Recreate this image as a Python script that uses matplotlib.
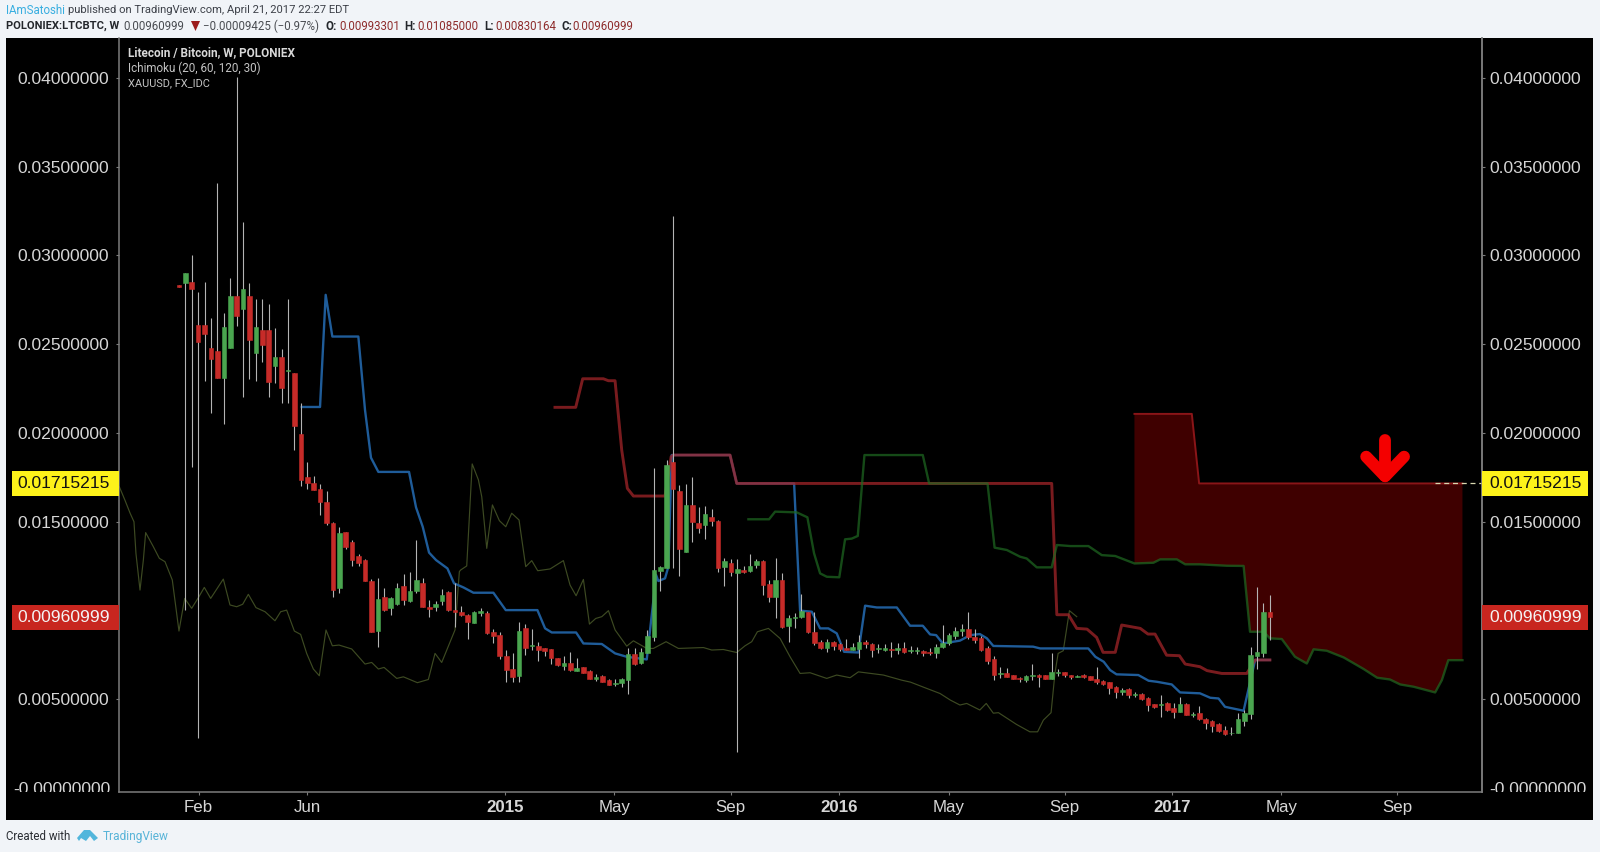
import numpy as np
import matplotlib
matplotlib.use('Agg')
import matplotlib.pyplot as plt
from matplotlib.patches import Rectangle, Polygon
from matplotlib.transforms import Bbox

# weekly candles, in thousandths of BTC (divided by 1000 below)
opens = [28.35,
    28.47, 28.53, 26.1, 26.1, 24.8, 24.62, 23.08, 24.77, 27.72,
    26.99, 27.72, 24.49, 25.8, 25.8, 23.79, 24.3, 23.47, 23.4, 19.92,
    17.53, 17.19, 16.86, 16.12, 14.9, 11.24, 14.43, 13.87, 13.06, 12.83,
    11.65, 8.85, 10.73, 10.11, 10.33, 11.37, 10.52, 11.09, 11.52, 10.16,
    10.18, 10.54, 11.05, 10.0, 9.9, 9.73, 9.3, 9.86, 9.83, 8.79,
    8.6, 7.42, 6.67, 6.31, 9.02, 7.98, 8.0, 7.85, 7.8, 7.33,
    6.88, 7.01, 6.6, 6.78, 6.6, 6.12, 6.3, 6.07, 5.84, 5.92,
    6.07, 7.53, 7.01, 7.61, 8.47, 12.21, 12.4, 18.34, 16.74, 13.3,
    15.92, 14.92, 14.8, 15.28, 15.05, 12.46, 12.68, 12.08, 12.25, 12.2,
    12.55, 12.78, 11.48, 10.76, 11.7, 9.11, 9.58, 9.6, 9.92, 8.79,
    8.19, 7.85, 8.23, 8.08, 7.85, 7.79, 7.81, 8.19, 8.08, 7.81,
    7.75, 7.81, 7.75, 7.9, 7.72, 7.7, 7.7, 7.66, 7.57, 7.91,
    8.13, 8.55, 8.85, 8.92, 8.47, 8.42, 7.87, 7.25, 6.41, 6.44,
    6.35, 6.2, 6.07, 6.31, 6.37, 6.37, 6.13, 6.44, 6.54, 6.37,
    6.24, 6.35, 6.27, 6.14, 6.03, 5.94, 5.69, 5.37, 5.54, 5.24,
    5.28, 5.07, 4.71, 4.64, 4.75, 4.47, 4.28, 4.71, 4.11, 4.19,
    3.89, 3.76, 3.57, 3.25, 3.06, 3.1, 3.78, 4.15, 7.44, 7.61, 9.93]
closes = [28.25,
    29.0, 28.1, 25.15, 25.58, 24.17, 23.08, 25.99, 27.72, 26.6,
    28.11, 25.24, 25.99, 24.96, 22.89, 24.3, 22.55, 23.55, 20.39, 17.34,
    17.16, 16.78, 16.12, 14.9, 11.14, 14.34, 13.58, 12.83, 12.68, 11.67,
    8.79, 10.63, 10.0, 10.67, 11.24, 10.58, 11.1, 11.71, 10.2, 10.09,
    10.33, 10.86, 10.02, 9.9, 9.73, 9.32, 9.9, 9.98, 8.7, 8.57,
    7.44, 6.63, 6.22, 8.83, 7.85, 8.04, 7.76, 7.72, 7.29, 6.91,
    7.01, 6.63, 6.76, 6.48, 6.12, 6.26, 5.97, 5.8, 5.92, 6.12,
    7.53, 6.97, 7.67, 8.55, 12.27, 12.46, 18.19, 16.84, 13.45, 15.92,
    15.0, 14.64, 15.41, 15.01, 12.4, 12.76, 12.17, 12.3, 12.17, 12.5,
    12.78, 11.42, 10.76, 11.7, 9.07, 9.54, 9.64, 9.94, 8.75, 8.13,
    7.85, 8.23, 7.98, 7.81, 7.79, 7.94, 8.19, 8.08, 7.75, 7.85,
    7.9, 7.77, 7.9, 7.63, 7.75, 7.77, 7.57, 7.57, 7.94, 8.13,
    8.59, 8.85, 8.92, 8.47, 8.32, 7.76, 7.16, 6.35, 6.44, 6.26,
    6.13, 6.11, 6.31, 6.35, 6.26, 6.13, 6.5, 6.5, 6.35, 6.22,
    6.31, 6.22, 6.07, 5.94, 5.82, 5.63, 5.37, 5.52, 5.24, 5.28,
    4.98, 4.66, 4.53, 4.71, 4.38, 4.28, 4.71, 4.1, 4.17, 3.85,
    3.63, 3.47, 3.19, 3.02, 3.1, 3.85, 4.19, 7.48, 7.63, 9.92, 9.61]
highs = [28.35,
    29.0, 30.0, 27.93, 28.53, 26.5, 34.1, 26.74, 28.72, 40.08,
    31.9, 28.43, 27.53, 27.53, 27.25, 25.9, 24.71, 27.53, 23.4, 21.67,
    18.38, 17.57, 17.12, 16.74, 14.95, 14.68, 14.43, 13.96, 13.17, 12.87,
    11.74, 11.84, 11.27, 10.75, 11.52, 12.03, 12.14, 13.96, 11.84, 10.58,
    10.54, 11.18, 11.09, 11.52, 10.24, 9.77, 9.98, 10.13, 9.98, 8.92,
    8.75, 7.76, 7.57, 9.32, 9.21, 8.94, 8.19, 7.85, 7.8, 7.33,
    7.44, 7.63, 7.33, 6.82, 6.63, 6.39, 6.33, 6.1, 6.1, 6.17,
    7.89, 7.85, 7.85, 8.89, 18.0, 12.5, 18.47, 32.24, 17.06, 17.12,
    17.5, 15.8, 15.9, 15.69, 15.09, 12.93, 12.87, 12.87, 12.5, 13.2,
    12.87, 12.83, 11.7, 12.93, 12.08, 9.73, 9.82, 10.91, 9.92, 9.92,
    8.32, 8.4, 8.29, 8.13, 8.4, 8.13, 8.6, 8.32, 8.13, 8.08,
    8.1, 8.19, 8.13, 8.19, 7.98, 7.94, 7.75, 7.85, 8.08, 9.17,
    8.7, 9.07, 9.2, 9.92, 8.92, 8.55, 7.99, 7.42, 6.78, 6.76,
    6.35, 6.26, 6.35, 6.97, 6.41, 6.37, 7.61, 6.67, 6.54, 6.37,
    6.35, 6.39, 6.27, 6.78, 6.07, 5.98, 5.73, 5.6, 5.6, 5.39,
    5.32, 5.13, 4.71, 5.22, 4.81, 4.75, 5.13, 4.75, 4.26, 4.62,
    3.93, 3.82, 3.62, 3.49, 3.44, 4.23, 4.38, 7.91, 11.29, 10.39, 10.85]
lows = [28.25,
    10.0, 18.1, 2.8, 22.95, 21.1, 23.08, 20.5, 24.77, 26.0,
    22.0, 23.04, 22.95, 24.02, 22.0, 22.83, 21.67, 21.7, 19.04, 17.0,
    16.86, 16.78, 15.37, 14.8, 10.77, 10.96, 13.44, 12.51, 12.51, 11.67,
    8.79, 7.95, 9.98, 9.73, 10.3, 10.3, 10.48, 10.95, 10.2, 9.6,
    9.98, 10.3, 9.98, 9.07, 9.68, 8.36, 9.27, 9.68, 8.66, 8.17,
    7.25, 5.97, 5.97, 5.97, 7.48, 7.76, 7.14, 7.44, 6.95, 6.86,
    6.63, 6.6, 6.58, 6.44, 6.1, 6.0, 5.95, 5.78, 5.73, 5.65,
    5.28, 6.91, 6.97, 7.57, 8.29, 11.1, 12.36, 12.36, 11.95, 13.3,
    13.83, 14.34, 14.0, 14.77, 12.17, 11.37, 11.95, 2.0, 12.08, 12.14,
    12.4, 10.86, 10.48, 9.58, 9.03, 8.23, 9.03, 9.56, 8.73, 8.07,
    7.81, 7.66, 7.75, 7.72, 7.75, 7.75, 7.29, 7.9, 7.38, 7.57,
    7.72, 7.34, 7.53, 7.57, 7.57, 7.53, 7.44, 7.5, 7.32, 7.89,
    8.07, 8.36, 8.57, 8.36, 8.17, 7.72, 6.97, 6.07, 6.16, 6.22,
    6.11, 5.94, 5.94, 6.07, 5.69, 6.11, 6.11, 6.31, 6.26, 6.14,
    6.22, 6.2, 6.05, 5.84, 5.78, 5.28, 5.07, 5.22, 5.07, 5.13,
    4.94, 4.32, 4.51, 3.97, 4.34, 3.91, 4.26, 4.08, 3.96, 3.81,
    3.3, 3.15, 3.13, 2.98, 2.98, 3.08, 3.47, 3.85, 6.67, 7.38, 8.3]

# Ichimoku lines and gold overlay: (week, value)
tenkan_w = [19.13, 21.99, 22.87, 23.91, 27.96, 29.0, 29.93, 31.08, 35.86, 36.95, 37.99, 38.98, 40.07, 41.84, 42.87,
    44.33, 45.89, 49.0, 50.93, 55.86, 57.06, 58.1, 61.89, 63.03, 65.89, 67.97, 69.78, 72.9, 73.94, 74.35, 74.71,
    75.75, 76.27, 76.79, 85.88, 86.92, 95.86, 96.79, 98.61, 99.91, 101.2, 102.5, 103.65, 105.88, 106.92, 108.74,
    111.86, 113.93, 115.91, 117.05, 117.99, 119.03, 121.7, 123.3, 124.8, 125.9, 126.9, 133.1, 134.2, 141.7, 142.8,
    144.1, 145.1, 146.1, 149.5, 151.1, 152.4, 154.7, 156.0, 159.1, 160.7, 162.0, 163.0, 165.9, 167.7, 170.0]
tenkan_v = [21.46, 21.46, 27.78, 25.43, 25.43, 21.29, 18.6, 17.8, 17.8, 15.8, 14.71, 13.25, 12.83, 12.36, 11.52,
    11.29, 10.99, 10.99, 10.01, 10.01, 8.98, 8.75, 8.75, 8.13, 8.1, 7.57, 7.38, 7.23, 10.58, 11.99, 11.65,
    11.8, 12.46, 18.75, 18.75, 17.15, 17.15, 9.98, 9.92, 8.98, 8.98, 8.7, 7.66, 7.62, 10.26, 10.16,
    10.16, 9.13, 9.13, 8.64, 8.6, 8.13, 8.29, 8.6, 8.66, 8.42, 7.99, 7.95, 7.85, 7.85, 7.38,
    7.1, 6.63, 6.39, 6.35, 6.03, 5.97, 5.82, 5.37, 5.32, 5.07, 5.03, 4.56, 4.34, 7.2, 7.2]
kijun_w = [58.6, 61.83, 62.92, 66.14, 66.92, 67.96, 69.0, 69.88, 70.82, 75.75, 76.7, 77.05, 85.88, 86.92, 136.0,
    136.8, 138.6, 139.9, 141.5, 143.0, 144.0, 145.9, 146.9, 149.8, 151.0, 152.1, 153.9, 155.9, 156.8, 159.1,
    160.2, 162.5, 166.4, 167.7, 170.0]
kijun_v = [21.44, 21.44, 23.05, 23.05, 22.94, 22.94, 19.03, 16.87, 16.44, 16.44, 18.66, 18.75, 18.75, 17.15, 17.15,
    9.75, 9.75, 8.98, 8.94, 8.47, 7.63, 7.63, 9.17, 8.98, 8.66, 8.66, 7.47, 7.44, 6.97, 6.82,
    6.6, 6.44, 6.44, 7.2, 7.2]
span_a_w = [88.74, 91.96, 92.9, 96.27, 97.93, 98.97, 99.91, 100.95, 102.9, 103.8, 104.84, 105.78, 106.82, 115.91,
    116.9, 126.0, 127.1, 129.0, 131.07, 132.1, 133.67, 136.0, 136.8, 138.9, 141.72, 143.8, 145.9, 148.9, 151.85,
    152.9, 155.5, 156.8, 159.1, 163.3, 165.9, 166.9, 169.0, 170.0, 171.85, 173.9, 175.75, 176.8, 178.86, 181.5,
    184.6, 186.7, 188.7, 190.3, 192.4, 195.75, 196.8, 197.8, 200.0]
span_a_v = [15.13, 15.13, 15.56, 15.52, 15.24, 13.21, 12.08, 11.89, 11.86, 14.0, 14.04, 14.19, 18.75, 18.75,
    17.15, 17.15, 13.53, 13.4, 13.02, 12.92, 12.42, 12.42, 13.68, 13.62, 13.62, 13.11, 13.06, 12.64, 12.68,
    12.87, 12.87, 12.59, 12.59, 12.51, 12.5, 8.79, 8.79, 8.42, 8.38, 7.38, 7.0, 7.8, 7.72, 7.34,
    6.69, 6.2, 6.1, 5.82, 5.69, 5.37, 6.07, 7.19, 7.19]
span_b_w = [148.89, 157.83, 158.97, 200.0]
span_b_v = [21.07, 21.07, 17.15, 17.15]
gold_w = [-9.29, -8.4, -7.6, -7.0, -6.69, -6.06, -5.54, -5.18, -3.99, -3.05, -2.17, -1.03, 0.01, 0.9, 1.99, 3.03, 3.96,
    4.95, 6.92, 7.96, 9.0, 9.94, 10.82, 12.01, 13.42, 14.97, 15.86, 16.79, 17.99, 18.97, 19.91, 20.95, 21.88, 22.92,
    23.91, 24.95, 26.93, 29.0, 30.04, 31.08, 31.97, 33.94, 34.98, 37.16, 38.87, 39.91, 40.95, 43.03, 43.7, 43.9,
    44.85, 45.7, 46.67, 47.19, 47.97, 48.85, 49.94, 50.93, 51.86, 53.0, 54.04, 54.98, 55.91, 57.84, 59.91, 60.95,
    61.89, 63.03, 63.97, 64.95, 65.89, 66.93, 67.97, 69.78, 70.82, 72.9, 73.94, 75.91, 77.83, 81.73, 83.03, 84.84,
    86.92, 88.22, 89.26, 90.14, 91.86, 93.68, 95.23, 96.79, 98.35, 100.95, 102.5, 104.58, 105.88, 109.78, 112.64,
    114.0, 116.5, 118.6, 120.2, 121.7, 122.76, 124.8, 125.8, 126.9, 127.7, 130.5, 132.6, 133.8, 134.7, 135.9, 136.5,
    137.0, 137.8, 138.76, 139.9]
gold_v = [16.97, 16.2, 15.47, 14.99, 13.2, 11.14, 12.83, 14.38, 13.59, 12.93, 12.74, 11.71, 8.83, 10.67, 10.11, 10.71, 11.29,
    10.67, 11.76, 10.3, 10.2, 10.34, 10.9, 10.15, 9.92, 9.41, 9.92, 10.01, 8.83, 8.64, 7.57, 6.69, 6.31, 8.89,
    8.0, 8.04, 7.82, 6.97, 7.06, 6.69, 6.78, 6.16, 6.25, 5.92, 6.1, 7.57, 7.06, 8.9, 12.18, 12.27,
    12.5, 18.25, 17.35, 16.4, 13.49, 15.94, 15.05, 14.71, 15.47, 15.09, 12.46, 12.8, 12.23, 12.33, 12.8, 11.42,
    10.82, 11.74, 9.22, 9.54, 9.64, 9.98, 8.89, 7.98, 8.28, 7.85, 7.85, 8.23, 7.85, 7.9, 7.76, 7.79,
    7.62, 8.0, 8.23, 8.79, 8.98, 8.41, 7.38, 6.44, 6.48, 6.16, 6.35, 6.2, 6.53, 6.35, 6.06,
    5.95, 5.6, 5.31, 4.94, 4.66, 4.75, 4.38, 4.75, 4.2, 4.23, 3.57, 3.15, 3.15, 3.81, 4.23, 6.44,
    7.57, 7.72, 9.98, 9.64]

y_ticks = [0.005, 0.015, 0.02, 0.025, 0.03, 0.035, 0.04]
x_tick_weeks = [3.08, 20.0, 50.8, 67.85, 86.0, 102.8, 120.0, 138.0, 154.8, 171.8, 189.8]
x_tick_labels = ['Feb', 'Jun', '2015', 'May', 'Sep', '2016', 'May', 'Sep', '2017', 'May', 'Sep']
bold_labels = ('2015', '2016', '2017')
last_price = 0.00960999
span_b_last = 0.01715215
arrow_w = [187.95, 185.0, 190.9]
arrow_v = [19.6, 18.66, 17.55]

LABEL = '#d6d6d6'
AXIS = '#7c7c7c'
FONT = 'Liberation Sans'
UI = 'Roboto'

opens, highs, lows, closes = [np.array(a) / 1000 for a in (opens, highs, lows, closes)]
week = np.arange(len(opens))
up = closes >= opens


def fx(px):
    return px / 1600


def fy(py):
    return 1 - py / 852


fig = plt.figure(figsize=(16, 8.52), dpi=100, facecolor='#f1f4f8')
fig.patches.append(Rectangle((fx(6), fy(820)), fx(1587), 782 / 852, transform=fig.transFigure, facecolor='black', edgecolor='none', zorder=-5))

ax = fig.add_axes([fx(118.7), fy(791.7), fx(1363), (791.7 - 38.3) / 852], facecolor='black')
ax.patch.set_alpha(0)
ax.set_xlim(-9.38, 203.0)
ax.set_ylim(-0.000225, 0.04224)

# cloud, only the part ahead of the last candles is shaded
cloud_a = [(w, v / 1000) for w, v in zip(span_a_w, span_a_v) if w >= 148.89]
cloud_b = [(w, v / 1000) for w, v in zip(span_b_w, span_b_v)]
ax.add_patch(Polygon(cloud_b + cloud_a[::-1], closed=True, facecolor='#3f0000', edgecolor='none', zorder=1))

ax.plot(gold_w, np.array(gold_v) / 1000, color='#3d4a22', lw=0.85, zorder=2)
ax.plot(tenkan_w, np.array(tenkan_v) / 1000, color='#1f5c99', lw=1.7, zorder=2.2)
ax.plot(kijun_w, np.array(kijun_v) / 1000, color='#a32529', lw=2.1, alpha=0.75, zorder=2.4)
ax.plot(span_b_w, np.array(span_b_v) / 1000, color='#8a1518', lw=1.4, zorder=2.5)
ax.plot(span_a_w, np.array(span_a_v) / 1000, color='#1f6a22', lw=1.7, alpha=0.7, zorder=2.6)

# dashed stub to the price label
ax.plot([195.8, 203.0], [span_b_last, span_b_last], color='#d8d8b0', lw=0.9, ls=(0, (4, 3)), zorder=2.7)

ax.vlines(week, lows, highs, color='#b4b4b4', lw=0.8, zorder=3)
body_col = np.where(up, '#4aa54f', '#c62b28')
ax.bar(week, np.abs(closes - opens), bottom=np.minimum(opens, closes), width=0.72, color=body_col,
       edgecolor=body_col, linewidth=0.4, zorder=4)

# red arrow drawn by hand on the chart
arrow_y = np.array(arrow_v) / 1000
ax.plot([arrow_w[0], arrow_w[0]], [arrow_y[0], arrow_y[2]], color='#f40000', lw=8.5, solid_capstyle='round', zorder=5)
ax.plot([arrow_w[1], arrow_w[0], arrow_w[2]], [arrow_y[1], arrow_y[2], arrow_y[1]], color='#f40000', lw=8.5,
        solid_capstyle='round', solid_joinstyle='round', zorder=5)

ax.spines['top'].set_visible(False)
for side in ('left', 'right', 'bottom'):
    ax.spines[side].set_color(AXIS)
    ax.spines[side].set_linewidth(1.1)

ax.set_yticks(y_ticks)
ax.set_yticklabels(['%.8f' % t for t in y_ticks], fontfamily=FONT, fontsize=12.6, color=LABEL)
ax.tick_params(axis='y', length=2.5, width=0.8, color=AXIS, pad=4.5)
ax.set_xticks(x_tick_weeks)
ax.set_xticklabels(x_tick_labels, fontfamily=FONT, fontsize=12.2, color=LABEL)
for lab in ax.get_xticklabels():
    if lab.get_text() in bold_labels:
        lab.set_fontweight('bold')
ax.tick_params(axis='x', length=2.5, width=0.8, color=AXIS, pad=3.8)

ax2 = ax.twinx()
ax2.set_ylim(ax.get_ylim())
ax2.patch.set_alpha(0)
for side in ('left', 'top', 'bottom'):
    ax2.spines[side].set_visible(False)
ax2.spines['right'].set_color(AXIS)
ax2.spines['right'].set_linewidth(1.1)
ax2.set_yticks(y_ticks)
ax2.set_yticklabels(['%.8f' % t for t in y_ticks], fontfamily=FONT, fontsize=12.6, color=LABEL)
ax2.tick_params(axis='y', length=2.5, width=0.8, color=AXIS, pad=3)

# the zero labels are cut by the scale edge in the original
clip = Bbox([[0, 852 - 791.7], [1600, 852]])
for x, ha in ((110, 'right'), (1489, 'left')):
    t = fig.text(fx(x), fy(790), '-0.00000000', ha=ha, va='center', family=FONT, fontsize=12.6, color=LABEL)
    t.set_clip_box(clip)
    t.set_clip_on(True)


def price_box(x0, x1, value, text, face, txt, tx, ha):
    py = 787.7 - value * 17740
    fig.patches.append(Rectangle((fx(x0), fy(py + 12.5)), fx(x1 - x0), 25 / 852, transform=fig.transFigure,
                                 facecolor=face, edgecolor='none', zorder=6))
    fig.text(fx(tx), fy(py), text, ha=ha, va='center', family=FONT, fontsize=12.6, color=txt, zorder=7)


for x0, x1, tx, ha in ((12, 119, 110, 'right'), (1482, 1588, 1489, 'left')):
    price_box(x0, x1, span_b_last, '%.8f' % span_b_last, '#fdf21a', '#111111', tx, ha)
    price_box(x0, x1, last_price, '%.8f' % last_price, '#c8261f', '#f4f4f4', tx, ha)

# chart legend
fig.text(fx(127.8), fy(52.5), 'Litecoin / Bitcoin, W, POLONIEX', family=UI, fontweight='bold', fontsize=8.5, color='#d8d8d8', va='center')
fig.text(fx(127.8), fy(68.5), 'Ichimoku (20, 60, 120, 30)', family=UI, fontsize=8.4, color='#c4c4c4', va='center')
fig.text(fx(127.8), fy(83), 'XAUUSD, FX_IDC', family=UI, fontsize=7.9, color='#c4c4c4', va='center')

# header lines
fig.text(fx(6), fy(10), 'IAmSatoshi', family=UI, fontsize=8.3, color='#38aee0', va='center')
fig.text(fx(68.5), fy(10), 'published on TradingView.com, April 21, 2017 22:27 EDT', family=UI, fontsize=8.15, color='#3c4048', va='center')
fig.text(fx(6), fy(26), 'POLONIEX:LTCBTC, W', family=UI, fontweight='bold', fontsize=8.0, color='#23262b', va='center')
fig.text(fx(123), fy(26), '0.00960999', family=UI, fontsize=8.3, color='#4a4d52', va='center')
fig.patches.append(Polygon([(fx(191), fy(21)), (fx(200), fy(21)), (fx(195.5), fy(31))], closed=True,
                           transform=fig.transFigure, facecolor='#9c1c1c', edgecolor='none'))
fig.text(fx(203), fy(26), '\u22120.00009425 (\u22120.97%)', family=UI, fontsize=8.3, color='#4a4d52', va='center')
for key_x, key, val_x, val in ((325, 'O:', 339, '0.00993301'), (404, 'H:', 417, '0.01085000'),
                               (484.5, 'L:', 495, '0.00830164'), (561.6, 'C:', 572.6, '0.00960999')):
    fig.text(fx(key_x), fy(26), key, family=UI, fontweight='bold', fontsize=8.3, color='#23262b', va='center')
    fig.text(fx(val_x), fy(26), val, family=UI, fontsize=8.3, color='#8e2c2c', va='center')

# footer
fig.text(fx(6), fy(836.5), 'Created with', family=UI, fontsize=8.3, color='#2a2d33', va='center')
fig.text(fx(103), fy(836.5), 'TradingView', family=UI, fontsize=8.6, color='#58b4d8', va='center')
logo = [(77, 838), (84, 830), (90, 830), (98, 838), (94, 841), (90, 836), (86, 841), (81, 838), (79, 841)]
fig.patches.append(Polygon([(fx(a), fy(b)) for a, b in logo], closed=True, transform=fig.transFigure,
                           facecolor='#52b6dc', edgecolor='none'))

fig.savefig('out.png', dpi=100, facecolor=fig.get_facecolor())
